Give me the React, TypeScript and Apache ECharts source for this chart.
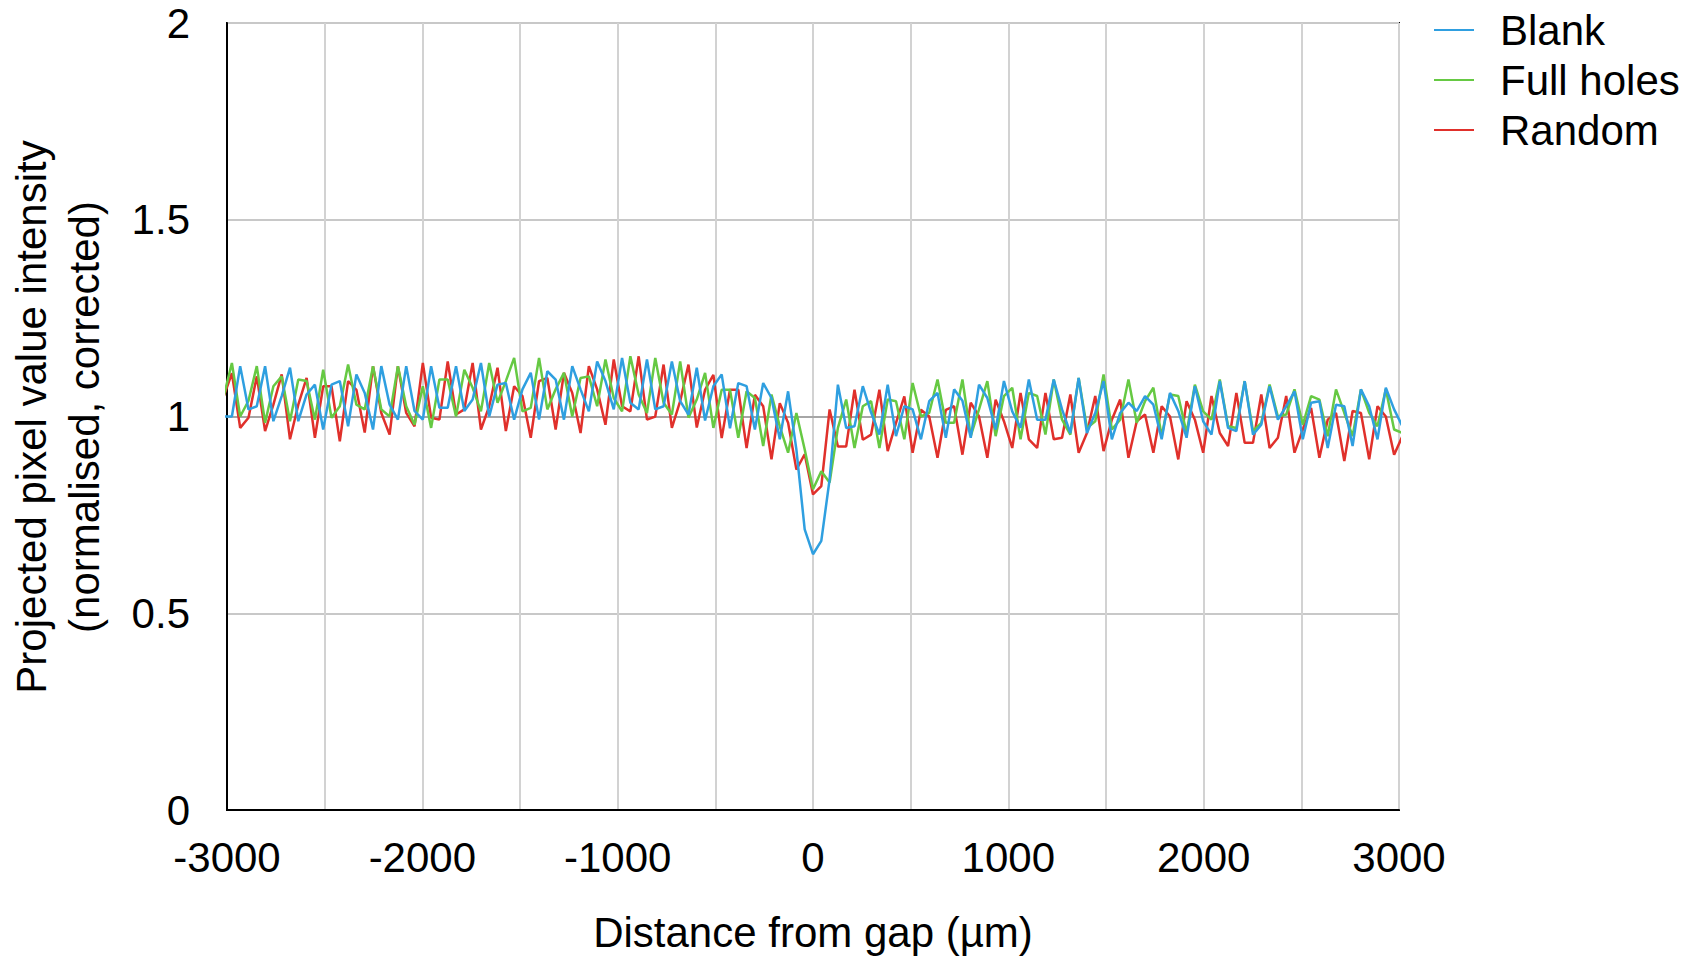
import React, { useEffect, useRef } from "react";
import * as echarts from "echarts";

// Sampling step of the profile (µm); first sample index
const STEP = 42.5;
const K0 = -71;

const xTickLabels = ["-3000", "-2000", "-1000", "0", "1000", "2000", "3000"];
const seriesNames = ["Blank", "Full holes", "Random"];

const blank = [
  1.0, 1.0, 1.128, 1.018, 1.026, 1.128, 0.988, 1.052, 1.124, 0.988,
  1.056, 1.081, 0.967, 1.081, 1.09, 0.975, 1.107, 1.06, 0.967, 1.128,
  1.03, 0.992, 1.128, 1.014, 0.992, 1.128, 1.022, 1.022, 1.128, 1.014,
  1.043, 1.136, 1.0, 1.081, 1.085, 0.992, 1.069, 1.111, 0.992, 1.115,
  1.094, 0.992, 1.128, 1.069, 1.013, 1.14, 1.09, 1.018, 1.149, 1.035,
  1.018, 1.145, 1.018, 1.026, 1.14, 1.039, 1.005, 1.124, 0.99, 1.077,
  1.107, 0.97, 1.085, 1.077, 0.967, 1.085, 1.047, 0.942, 1.064, 0.916,
  0.713, 0.65, 0.684, 0.84, 1.081, 0.971, 0.975, 1.077, 1.01, 0.954,
  1.081, 0.95, 1.026, 1.018, 0.942, 1.039, 1.06, 0.946, 1.069, 1.04,
  0.946, 1.081, 1.047, 0.967, 1.09, 1.013, 0.971, 1.094, 0.992, 0.992,
  1.094, 1.018, 0.958, 1.098, 0.958, 1.009, 1.09, 0.942, 1.009, 1.035,
  1.014, 1.052, 1.03, 0.942, 1.06, 1.014, 0.946, 1.077, 0.988, 0.954,
  1.09, 0.971, 0.963, 1.09, 0.954, 0.979, 1.077, 0.992, 1.026, 1.064,
  0.942, 1.035, 1.039, 0.92, 1.03, 1.026, 0.925, 1.069, 1.026, 0.942,
  1.073, 1.018, 0.975,
];

const fullHoles = [
  1.05, 1.136, 1.0, 1.04, 1.128, 0.984, 1.077, 1.102, 0.988, 1.094,
  1.09, 0.992, 1.119, 0.997, 1.026, 1.132, 1.03, 1.018, 1.128, 1.018,
  1.0, 1.128, 1.026, 0.979, 1.077, 0.971, 1.094, 1.094, 1.0, 1.119,
  1.073, 1.013, 1.136, 1.035, 1.09, 1.149, 1.013, 1.022, 1.149, 1.018,
  1.069, 1.111, 1.0, 1.098, 1.102, 1.026, 1.145, 1.047, 1.013, 1.153,
  1.056, 1.009, 1.149, 1.035, 1.005, 1.14, 0.997, 1.043, 1.111, 0.971,
  1.068, 1.068, 0.946, 1.064, 1.047, 0.925, 1.056, 0.975, 0.908, 1.009,
  0.916, 0.815, 0.861, 0.832, 0.971, 1.043, 0.92, 1.026, 1.039, 0.92,
  1.043, 1.039, 0.942, 1.085, 1.0, 1.009, 1.094, 0.984, 0.984, 1.094,
  0.95, 1.018, 1.09, 0.95, 1.052, 1.073, 0.942, 1.06, 1.052, 0.954,
  1.094, 0.992, 0.954, 1.098, 0.971, 0.988, 1.107, 0.967, 0.992, 1.094,
  0.984, 1.039, 1.073, 0.95, 1.056, 1.052, 0.958, 1.081, 1.013, 0.992,
  1.094, 0.975, 0.971, 1.09, 0.963, 0.984, 1.081, 1.0, 1.005, 1.069,
  0.979, 1.052, 1.043, 0.95, 1.069, 1.009, 0.95, 1.069, 1.009, 0.975,
  1.069, 0.967, 0.958,
];

const random = [
  1.05, 1.11, 0.971, 0.997, 1.102, 0.963, 1.03, 1.107, 0.942, 1.03,
  1.098, 0.946, 1.077, 1.077, 0.937, 1.09, 1.068, 0.959, 1.128, 1.009,
  0.954, 1.128, 1.009, 0.975, 1.136, 0.997, 0.992, 1.14, 1.005, 1.018,
  1.136, 0.967, 1.026, 1.124, 0.963, 1.077, 1.052, 0.946, 1.09, 1.098,
  0.967, 1.111, 1.06, 0.958, 1.128, 1.069, 0.979, 1.145, 1.026, 1.013,
  1.153, 0.992, 1.0, 1.132, 0.971, 1.039, 1.132, 0.972, 1.068, 1.106,
  0.945, 1.068, 1.068, 0.92, 1.055, 1.026, 0.891, 1.034, 0.984, 0.865,
  0.904, 0.802, 0.823, 1.018, 0.924, 0.924, 1.068, 0.941, 0.954, 1.068,
  0.912, 0.984, 1.051, 0.908, 1.017, 1.0, 0.895, 1.017, 1.026, 0.903,
  1.035, 1.0, 0.895, 1.043, 0.988, 0.92, 1.06, 0.942, 0.92, 1.06,
  0.942, 0.946, 1.056, 0.908, 0.958, 1.052, 0.912, 0.992, 1.043, 0.895,
  0.988, 1.005, 0.908, 1.026, 1.0, 0.891, 1.039, 0.992, 0.908, 1.052,
  0.958, 0.925, 1.06, 0.933, 0.933, 1.056, 0.92, 0.946, 1.052, 0.908,
  0.967, 1.022, 0.895, 0.992, 1.009, 0.887, 1.014, 1.009, 0.891, 1.026,
  1.0, 0.903, 0.95,
];

const distances = blank.map((_, i) => (K0 + i) * STEP);
const colors = ["#2f9fe0", "#66c943", "#e0302b"];
const FONT = "'Liberation Sans', Arial, Helvetica, sans-serif";

export default function App() {
  const ref = useRef<HTMLDivElement>(null);

  useEffect(() => {
    if (!ref.current) return;
    const chart = echarts.init(ref.current, null, { renderer: "svg" });
    const toPairs = (vals: number[]) => vals.map((v, i) => [distances[i], v]);
    const allSeries = [blank, fullHoles, random];

    chart.setOption({
      animation: false,
      backgroundColor: "#ffffff",
      textStyle: { fontFamily: FONT },
      grid: {
        left: 227,
        top: 23,
        width: 1172,
        height: 788,
        show: true,
        borderColor: "#000000",
        borderWidth: 2,
        backgroundColor: "transparent",
      },
      legend: {
        orient: "vertical",
        left: 1429,
        top: 4,
        itemWidth: 40,
        itemHeight: 2,
        itemGap: 8,
        icon: "rect",
        data: seriesNames,
        textStyle: {
          fontSize: 42,
          color: "#000000",
          fontFamily: FONT,
          padding: [0, 0, 0, 21],
        },
      },
      xAxis: {
        type: "value",
        min: -3000,
        max: 3000,
        interval: 500,
        name: "Distance from gap (µm)",
        nameLocation: "middle",
        nameGap: 101,
        nameTextStyle: { fontSize: 42, color: "#000000", fontFamily: FONT },
        axisLine: { show: true, onZero: false, lineStyle: { color: "#000000", width: 2 } },
        axisTick: { show: false },
        axisLabel: {
          fontSize: 42,
          color: "#000000",
          margin: 26,
          fontFamily: FONT,
          formatter: (v: number) => {
            const s = String(Math.round(v));
            return xTickLabels.includes(s) ? s : "";
          },
        },
        splitLine: { show: true, lineStyle: { color: "#d2d2d2", width: 2 } },
      },
      yAxis: {
        type: "value",
        min: 0,
        max: 2,
        interval: 0.5,
        axisLine: { show: true, onZero: false, lineStyle: { color: "#000000", width: 2 } },
        axisTick: { show: false },
        axisLabel: {
          fontSize: 42,
          color: "#000000",
          margin: 37,
          fontFamily: FONT,
        },
        splitLine: { show: true, lineStyle: { color: "#c8c8c8", width: 2 } },
      },
      graphic: [
        {
          type: "text",
          x: 58,
          y: 417,
          rotation: Math.PI / 2,
          style: {
            text: "Projected pixel value intensity\n(normalised, corrected)",
            fontSize: 42,
            lineHeight: 53,
            fontFamily: FONT,
            fill: "#000000",
            align: "center",
            verticalAlign: "middle",
          },
        },
      ],
      series: allSeries.map((vals, idx) => ({
        name: seriesNames[idx],
        type: "line",
        data: toPairs(vals),
        symbol: "none",
        clip: true,
        color: colors[idx],
        lineStyle: { color: colors[idx], width: 2.5 },
        z: 3 - idx,
        markLine:
          idx === 0
            ? {
                silent: true,
                symbol: "none",
                label: { show: false },
                lineStyle: { color: "#a6a6a6", width: 2, type: "solid" },
                z: 1,
                data: [{ yAxis: 1 }],
              }
            : undefined,
      })),
    });

    return () => chart.dispose();
  }, []);

  return (
    <div
      ref={ref}
      style={{ position: "fixed", left: 0, top: 0, width: 1700, height: 958 }}
    />
  );
}
